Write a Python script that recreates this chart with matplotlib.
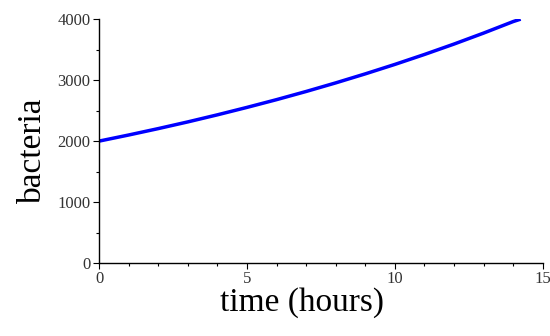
import matplotlib
matplotlib.use("Agg")
import matplotlib.pyplot as plt
from matplotlib.ticker import MultipleLocator

# data
time_hours = [0, 1, 2, 3, 4, 5, 6, 7, 8, 9, 10, 11, 12, 13, 14, 14.25]
bacteria = [2000, 2100, 2205, 2315, 2431, 2553, 2680, 2814, 2955, 3103,
            3258, 3421, 3592, 3772, 3961, 4000]

xlabel = "time (hours)"
ylabel = "bacteria"

plt.rcParams['font.family'] = ['Liberation Serif', 'DejaVu Serif']

fig = plt.figure(figsize=(5.5, 3.36), dpi=100)
ax = fig.add_axes([0.18, 0.217, 0.807, 0.726])
ax.plot(time_hours, bacteria, color='#0000ff', linewidth=2.5, solid_capstyle='butt')

ax.set_xlim(0, 15)
ax.set_ylim(0, 4000)
ax.xaxis.set_major_locator(MultipleLocator(5))
ax.xaxis.set_minor_locator(MultipleLocator(1))
ax.yaxis.set_major_locator(MultipleLocator(1000))
ax.yaxis.set_minor_locator(MultipleLocator(500))
for s in ['top', 'right']:
    ax.spines[s].set_visible(False)
for s in ['left', 'bottom']:
    ax.spines[s].set_linewidth(1.0)
ax.tick_params(which='major', length=4, width=0.8, labelsize=12, labelcolor='#333333', pad=2)
ax.tick_params(which='minor', length=2, width=0.8)

ax.set_xlabel(xlabel, fontsize=24)
ax.set_ylabel(ylabel, fontsize=24)
ax.xaxis.set_label_coords(0.457, -0.1)
ax.yaxis.set_label_coords(-0.114, 0.463)

fig.savefig("out.png", dpi=100)
